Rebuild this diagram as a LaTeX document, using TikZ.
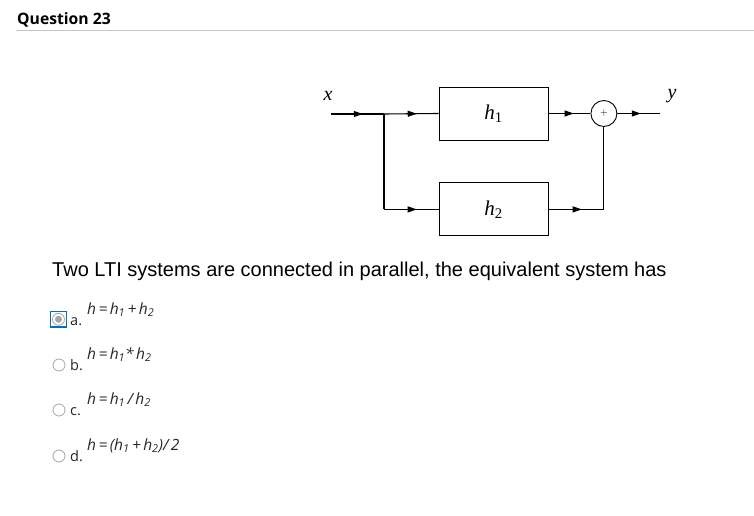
\documentclass[tikz,border=0pt]{standalone}
\usepackage{fontspec}
\setmainfont{Liberation Sans}
\newfontfamily\headfont{Open Sans}
\newfontfamily\timesf{Liberation Serif}
\usetikzlibrary{arrows.meta,positioning,decorations.markings}

% signal names in the block diagram
\newcommand{\sysname}[2]{{\timesf\itshape #1}\textsubscript{\timesf #2}}
% spacing in the answer formulas
\newcommand{\fsp}{\hspace{2.4bp}}

\begin{document}
\begin{tikzpicture}[
    x=1bp, y=-1bp,
    node distance=42bp,
    sysblock/.style={rectangle, draw, line width=0.9bp, minimum width=109bp, minimum height=53bp, inner sep=0pt, font=\fontsize{21bp}{24bp}\selectfont},
    adder/.style={circle, draw, line width=0.9bp, minimum size=26bp, inner sep=0pt, font=\fontsize{10bp}{11bp}\selectfont},
    sig/.style={draw, line width=1.1bp},
    flow/.style={sig, postaction={decorate}, decoration={markings, mark=at position #1 with {\arrow{Triangle[length=9bp,width=6bp]}}}},
    flow/.default=0.6,
    radio/.style={circle, draw=gray!70, line width=0.8bp, fill=white, minimum size=12bp, inner sep=0pt},
    optletter/.style={anchor=base west, font=\headfont\fontsize{14.5bp}{16bp}\selectfont, text=black!85, inner sep=0pt},
    formula/.style={anchor=base west, font=\headfont\itshape\fontsize{15.5bp}{17bp}\selectfont, text=black!85, inner sep=0pt}
]
\useasboundingbox (0,0) rectangle (754,516);

% ----------------------------
% Header
% ----------------------------
\node[anchor=base west, inner sep=0pt, font=\headfont\bfseries\fontsize{15.7bp}{18bp}\selectfont] (title) at (17,25) {Question 23};
\draw[gray!45, line width=0.8bp] (16,30) -- (754,30);

% ----------------------------
% Nodes
% ----------------------------
\coordinate (in) at (331,114);
\coordinate (branch) at (384,114);
\node[sysblock] (h1) at (493.5,113.5) {\sysname{h}{1}};
\node[sysblock, below=of h1] (h2) {\sysname{h}{2}};
\node[adder, right=of h1] (sum) {$+$};
\coordinate[right=56bp of sum.center] (out);

\node[font=\timesf\itshape\fontsize{20bp}{22bp}\selectfont, inner sep=0pt] (xlab) at (328,96) {x};
\node[font=\timesf\itshape\fontsize{20bp}{22bp}\selectfont, inner sep=0pt] (ylab) at (672,96) {y};

\coordinate (jn2) at (branch |- h2.west);
\coordinate (jn3) at (sum |- h2.east);

% ----------------------------
% Edges
% ----------------------------
\path[flow=0.6] (in) -- (branch);
\path[flow=0.6] (branch) -- (h1.west);
\path[sig] (branch) -- (jn2);
\path[flow=0.6] (jn2) -- (h2.west);

\path[flow=0.6] (h1.east) -- (sum.west);
\path[flow=0.6] (h2.east) -- (jn3);
\path[sig] (jn3) -- (sum.south);

\path[flow=0.55] (sum.east) -- (out);

% ----------------------------
% Question and options
% ----------------------------
\node[anchor=base west, inner sep=0pt, font=\fontsize{20bp}{23bp}\selectfont] (qtext) at (52,277) {Two LTI systems are connected in parallel, the equivalent system has};

% selected option
\draw[draw={rgb,255:red,0;green,110;blue,200}, line width=1.6bp] (50.5,311.5) rectangle (66.5,327);
\node[radio] (ra) at (58.5,319.3) {};
\fill[gray!70] (ra) circle (3.5bp);
\node[optletter] (la) at (70,325.5) {a.};
\node[formula] (fa) at (87,314) {h\fsp=\fsp h\textsubscript{1}\fsp+\fsp h\textsubscript{2}};

\node[radio] (rb) at (59,365) {};
\node[optletter] (lb) at (70,370.5) {b.};
\node[formula] (fb) at (87,359) {h\fsp=\fsp h\textsubscript{1}*\fsp h\textsubscript{2}};

\node[radio] (rc) at (59,410) {};
\node[optletter] (lc) at (70,415) {c.};
\node[formula] (fc) at (87,404) {h\fsp=\fsp h\textsubscript{1}\fsp/\fsp h\textsubscript{2}};

\node[radio] (rd) at (59,456) {};
\node[optletter] (ld) at (70,461) {d.};
\node[formula] (fd) at (87,450) {h\fsp=\fsp(h\textsubscript{1}\fsp+\fsp h\textsubscript{2})/\fsp 2};
\end{tikzpicture}
\end{document}
